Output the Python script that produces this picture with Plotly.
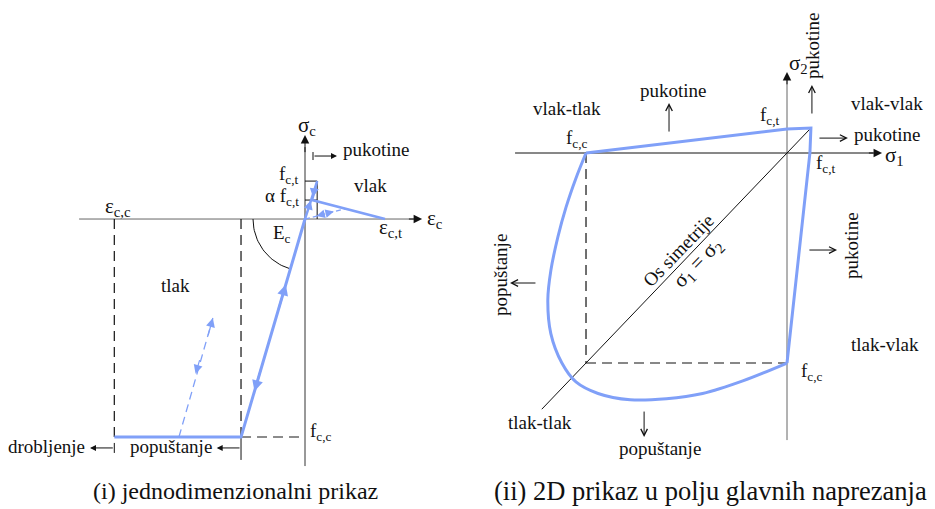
import numpy as np
import plotly.graph_objects as go

# ---------------- (i) uniaxial concrete model ----------------
# strain in units of the compressive yield strain, stress in units of |f_c,c|
eps_cc = -2.98      # crushing strain
eps_cy = -1.0       # end of elastic branch in compression
eps_t0 = 0.19       # strain at tensile strength
eps_ts = 0.11       # strain where tension softening starts
eps_ct = 1.25       # ultimate tensile strain
f_cc = -1.0         # compressive strength
f_ct = 0.174        # tensile strength
af_ct = 0.087       # alpha * f_c,t

comp_strain = [eps_cc, eps_cy, 0.0]
comp_stress = [f_cc, f_cc, 0.0]
tens_strain = [0.0, eps_t0, eps_ts, eps_ct]
tens_stress = [0.0, f_ct, af_ct, 0.0]
unload_t_strain = [0.0, 0.625]
unload_t_stress = [0.0, 0.047]
reload_c_strain = [-1.97, -1.44]
reload_c_stress = [f_cc, -0.454]

# ---------------- (ii) biaxial failure envelope ----------------
# principal stresses in units of |f_c,c|
env_cc_s1 = [-1.0, -1.05, -1.10, -1.14, -1.175, -1.19, -1.175, -1.12, -1.05,
             -0.94, -0.78, -0.60, -0.42, -0.22, 0.0]
env_cc_s2 = [0.0, -0.12, -0.26, -0.40, -0.56, -0.70, -0.86, -1.00, -1.09,
             -1.145, -1.175, -1.17, -1.145, -1.085, -1.0]
env_t_s1 = [-1.0, 0.0, 0.119, 0.114, 0.0]
env_t_s2 = [0.0, 0.114, 0.119, 0.0, -1.0]
sym_axis = [-1.22, 0.119]

# ---------------- figure ----------------
W, H = 935, 509
BLUE = "#80a0f8"
INK = "#111111"
GREY = "#666666"
FONT = "Liberation Serif, Times New Roman, serif"

XL = [-4.766, 2.578]
YL = [-1.330, 1.0046]
XR = [-1.5274, 0.7363]
YR = [-1.6952, 0.7286]

fig = go.Figure()
fig.update_layout(
    width=W, height=H, autosize=False,
    margin=dict(l=0, r=0, t=0, b=0),
    paper_bgcolor="white", plot_bgcolor="white", showlegend=False,
    xaxis=dict(domain=[0, 470 / W], range=XL, visible=False, fixedrange=True),
    yaxis=dict(domain=[0, 1], range=YL, visible=False, fixedrange=True),
    xaxis2=dict(domain=[480 / W, 1], range=XR, visible=False, anchor="y2", fixedrange=True),
    yaxis2=dict(domain=[0, 1], range=YR, visible=False, anchor="x2", fixedrange=True),
)


def ax_ids(panel):
    return ("x", "y") if panel == 1 else ("x2", "y2")


def line(panel, xs, ys, color=INK, width=1.0, dash=None, shape="linear"):
    xa, ya = ax_ids(panel)
    fig.add_trace(go.Scatter(
        x=xs, y=ys, xaxis=xa, yaxis=ya, mode="lines", hoverinfo="skip",
        line=dict(color=color, width=width, dash=dash, shape=shape, smoothing=1.0),
    ))


def arrow(panel, tail, head, color=INK, width=1.0, head_style=2, size=1.0):
    xa, ya = ax_ids(panel)
    fig.add_annotation(
        x=head[0], y=head[1], ax=tail[0], ay=tail[1],
        xref=xa, yref=ya, axref=xa, ayref=ya,
        showarrow=True, arrowhead=head_style, arrowsize=size,
        arrowwidth=width, arrowcolor=color, text="", standoff=0,
    )


def label(panel, x, y, text, size=19, xanchor="center", yanchor="middle", angle=0):
    xa, ya = ax_ids(panel)
    fig.add_annotation(
        x=x, y=y, xref=xa, yref=ya, text=text, showarrow=False,
        xanchor=xanchor, yanchor=yanchor, textangle=angle,
        font=dict(family=FONT, size=size, color=INK),
    )


# pixel scales of the left panel (for the E_c angle marker and small ticks)
sxL = 470 / (XL[1] - XL[0])
syL = H / (YL[1] - YL[0])

# ---- panel (i): axes ----
line(1, [-3.53, 1.70], [0, 0], color=GREY, width=1)
arrow(1, (1.60, 0), (1.83, 0), color=INK, width=1, head_style=2, size=1.7)
line(1, [0, 0], [-1.133, 0.33], color="#333333", width=1)
arrow(1, (0, 0.30), (0, 0.385), color=INK, width=1, head_style=2, size=1.7)

# guide lines
line(1, [eps_cc, eps_cc], [0, f_cc], color=INK, width=1.2, dash="10px,6px")
line(1, [eps_cy, eps_cy], [0, f_cc], color=INK, width=1.2, dash="10px,6px")
line(1, [eps_cy, eps_cy], [f_cc, -1.105], color=INK, width=1)
line(1, [eps_cy, 0], [f_cc, f_cc], color=GREY, width=1.5, dash="10px,6px")
line(1, [0, eps_t0], [f_ct, f_ct], color=INK, width=1)
line(1, [0, eps_t0], [af_ct, af_ct], color=INK, width=1)
line(1, [eps_t0, eps_t0], [0, f_ct], color=INK, width=1)

# E_c angle marker between the strain axis and the elastic branch
r_px = 52
t_end = np.arctan2(comp_stress[1] * syL, comp_strain[1] * sxL)
t = np.linspace(np.pi, 2 * np.pi + t_end, 30)
line(1, list(r_px * np.cos(t) / sxL), list(r_px * np.sin(t) / syL), color=INK, width=1)

# material response
line(1, comp_strain, comp_stress, color=BLUE, width=3)
line(1, tens_strain, tens_stress, color=BLUE, width=2.5)
line(1, unload_t_strain, unload_t_stress, color=BLUE, width=1.3, dash="5px,3px")
line(1, reload_c_strain, reload_c_stress, color=BLUE, width=1.3, dash="8px,5px")

# direction arrows on the response
arrow(1, (-0.42, -0.42), (-0.30, -0.30), color=BLUE, width=2, head_style=2, size=1.1)
arrow(1, (-0.68, -0.68), (-0.79, -0.79), color=BLUE, width=2, head_style=2, size=1.1)
arrow(1, (-1.52, -0.54), (-1.44, -0.454), color=BLUE, width=1.2, head_style=2, size=1.5)
arrow(1, (-1.64, -0.64), (-1.71, -0.71), color=BLUE, width=1.2, head_style=2, size=1.5)
arrow(1, (0.05, 0.045), (0.09, 0.085), color=BLUE, width=1.2, head_style=2, size=1.5)
arrow(1, (0.14, 0.13), (0.125, 0.10), color=BLUE, width=1.2, head_style=2, size=1.5)
arrow(1, (0.25, 0.019), (0.18, 0.0135), color=BLUE, width=1.2, head_style=2, size=1.4)
arrow(1, (0.38, 0.029), (0.45, 0.034), color=BLUE, width=1.2, head_style=2, size=1.4)

# mode arrows
arrow(1, (0.125, 0.289), (0.50, 0.289), color=INK, width=1, head_style=2, size=1.2)
line(1, [0.125, 0.125], [0.289 - 4 / syL, 0.289 + 4 / syL], color=INK, width=1)
arrow(1, (eps_cc, -1.05), (-3.36, -1.05), color=INK, width=1, head_style=2, size=1.2)
line(1, [eps_cc, eps_cc], [-1.05 - 5 / syL, -1.05 + 5 / syL], color=INK, width=1)
arrow(1, (eps_cy, -1.05), (-1.38, -1.05), color=INK, width=1, head_style=2, size=1.2)

# labels
label(1, -0.14, 0.425, "σ<sub>c</sub>", size=21, xanchor="left")
label(1, 0.56, 0.317, "pukotine", xanchor="left")
label(1, -0.06, 0.200, "f<sub>c,t</sub>", xanchor="right")
label(1, -0.06, 0.103, "α f<sub>c,t</sub>", xanchor="right")
label(1, 1.02, 0.156, "vlak")
label(1, -2.92, 0.055, "ε<sub>c,c</sub>", size=21)
label(1, 1.88, 0.0, "ε<sub>c</sub>", size=21, xanchor="left")
label(1, 1.33, -0.040, "ε<sub>c,t</sub>", size=21)
label(1, -0.36, -0.070, "E<sub>c</sub>")
label(1, -2.03, -0.303, "tlak")
label(1, 0.05, -0.975, "f<sub>c,c</sub>", xanchor="left")
label(1, -3.40, -1.045, "drobljenje", xanchor="right")
label(1, -1.43, -1.045, "popuštanje", xanchor="right")

# ---- panel (ii): axes ----
line(2, [-1.353, 0.43], [0, 0], color=INK, width=1)
arrow(2, (0.40, 0), (0.473, 0), color=INK, width=1, head_style=2, size=1.7)
line(2, [0, 0], [-1.367, 0.35], color=GREY, width=1)
arrow(2, (0, 0.32), (0, 0.386), color=INK, width=1, head_style=2, size=1.7)

# guide lines
line(2, [-1.0, -1.0], [0, -1.0], color=INK, width=1.2, dash="10px,6px")
line(2, [-1.0, 0], [-1.0, -1.0], color=INK, width=1.2, dash="10px,6px")
line(2, sym_axis, sym_axis, color=INK, width=1)

# failure envelope
line(2, env_cc_s1, env_cc_s2, color=BLUE, width=3, shape="spline")
line(2, env_t_s1, env_t_s2, color=BLUE, width=3)

# failure mode arrows
arrow(2, (-0.587, 0.095), (-0.587, 0.238), color=INK, width=1, head_style=5, size=1.3)
arrow(2, (0.124, 0.181), (0.124, 0.324), color=INK, width=1, head_style=5, size=1.3)
arrow(2, (0.154, 0.071), (0.303, 0.071), color=INK, width=1, head_style=5, size=1.3)
arrow(2, (0.104, -0.462), (0.249, -0.462), color=INK, width=1, head_style=5, size=1.3)
arrow(2, (-1.244, -0.619), (-1.378, -0.619), color=INK, width=1, head_style=5, size=1.3)
arrow(2, (-0.711, -1.224), (-0.711, -1.352), color=INK, width=1, head_style=5, size=1.3)

# labels
label(2, -1.095, 0.214, "vlak-tlak")
label(2, -0.567, 0.300, "pukotine")
label(2, -1.045, 0.066, "f<sub>c,c</sub>")
label(2, -0.085, 0.175, "f<sub>c,t</sub>")
label(2, 0.0, 0.424, "σ<sub>2</sub>", size=21, xanchor="left")
label(2, 0.124, 0.514, "pukotine", angle=-90)
label(2, 0.4975, 0.238, "vlak-vlak")
label(2, 0.325, 0.090, "pukotine", xanchor="left")
label(2, 0.480, -0.015, "σ<sub>1</sub>", size=21, xanchor="left")
label(2, 0.194, -0.053, "f<sub>c,t</sub>")
label(2, -1.428, -0.581, "popuštanje", angle=-90)
label(2, -0.542, -0.462, "Os simetrije", angle=-46)
label(2, -0.443, -0.524, "σ<sub>1</sub> = σ<sub>2</sub>", size=21, angle=-46)
label(2, 0.323, -0.438, "pukotine", angle=-90)
label(2, 0.488, -0.914, "tlak-vlak")
label(2, 0.124, -1.045, "f<sub>c,c</sub>")
label(2, -1.229, -1.281, "tlak-tlak")
label(2, -0.632, -1.405, "popuštanje")

# captions
for cx, size, text in [(236 / W, 24, "(i) jednodimenzionalni prikaz"),
                       (710 / W, 26.5, "(ii) 2D prikaz u polju glavnih naprezanja")]:
    fig.add_annotation(x=cx, y=1 - 491 / H, xref="paper", yref="paper", text=text,
                       showarrow=False, xanchor="center", yanchor="middle",
                       font=dict(family=FONT, size=size, color=INK))

fig.write_html("out.html")
